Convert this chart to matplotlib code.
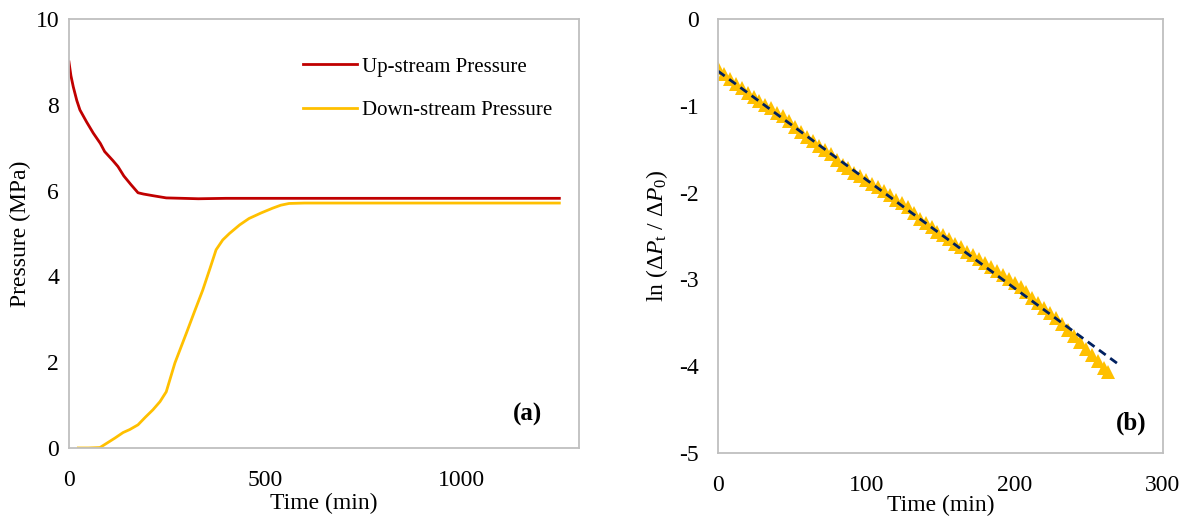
import matplotlib
matplotlib.use("Agg")
import matplotlib.pyplot as plt

# (a) pressure history in the two reservoirs
up_time = [0, 5, 11, 20, 28, 45, 62, 80, 91, 100, 112, 125, 140, 158, 176, 190, 215, 248, 290, 330, 400, 600, 900, 1250]
up_pressure = [9.0, 8.68, 8.42, 8.1, 7.88, 7.6, 7.34, 7.1, 6.91, 6.82, 6.7, 6.56, 6.34, 6.14, 5.95, 5.92, 5.88, 5.83, 5.82, 5.81, 5.82, 5.82, 5.82, 5.82]

down_time = [24, 50, 79, 98, 117, 138, 155, 176, 195, 214, 232, 248, 270, 299, 320, 341, 360, 375, 392, 409, 435, 459, 490, 519, 540, 561, 600, 900, 1250]
down_pressure = [0.0, 0.0, 0.01, 0.12, 0.23, 0.36, 0.43, 0.54, 0.72, 0.89, 1.08, 1.31, 1.98, 2.67, 3.18, 3.68, 4.2, 4.62, 4.85, 5.0, 5.2, 5.35, 5.48, 5.59, 5.66, 5.7, 5.71, 5.71, 5.71]

# (b) log pressure-difference decay and its linear fit
decay_time = [0, 4, 8, 12, 16, 20, 24, 28, 32, 36, 40, 44, 48, 52, 56, 60, 64, 68, 72, 76,
              80, 84, 88, 92, 96, 100, 104, 108, 112, 116, 120, 124, 128, 132, 136, 140, 144, 148, 152, 156,
              160, 164, 168, 172, 176, 180, 184, 188, 192, 196, 200, 204, 208, 212, 216, 220, 224, 228, 232, 236,
              240, 244, 248, 252, 256, 260, 263]
decay_ln = [-0.56, -0.63, -0.69, -0.75, -0.80, -0.85, -0.90, -0.94, -0.99, -1.03, -1.08, -1.12, -1.18, -1.24, -1.30, -1.36, -1.41, -1.46, -1.51, -1.56,
            -1.62, -1.68, -1.72, -1.77, -1.81, -1.86, -1.90, -1.94, -1.98, -2.03, -2.08, -2.12, -2.17, -2.24, -2.30, -2.35, -2.40, -2.45, -2.49, -2.54,
            -2.59, -2.63, -2.68, -2.72, -2.76, -2.81, -2.86, -2.90, -2.95, -3.00, -3.04, -3.09, -3.15, -3.21, -3.27, -3.33, -3.39, -3.45, -3.51, -3.58,
            -3.65, -3.72, -3.80, -3.87, -3.94, -4.02, -4.07]

fit_time = [0, 271]
fit_ln = [-0.6, -3.99]

plt.rcParams['font.family'] = ['Liberation Serif', 'DejaVu Serif']
plt.rcParams['mathtext.fontset'] = 'custom'
plt.rcParams['mathtext.rm'] = 'Liberation Serif'
plt.rcParams['mathtext.it'] = 'Liberation Serif:italic'
plt.rcParams['axes.unicode_minus'] = False
plt.rcParams['font.size'] = 17

grey = '#BFBFBF'

fig = plt.figure(figsize=(11.93, 5.17), dpi=100)
ax1 = fig.add_axes([0.0578, 0.1335, 0.4275, 0.8297])
ax2 = fig.add_axes([0.6018, 0.1238, 0.3730, 0.8395])

for ax in (ax1, ax2):
    for s in ax.spines.values():
        s.set_color(grey)
        s.set_linewidth(1.3)
    ax.tick_params(length=0, labelsize=17)

# left panel
ax1.plot(up_time, up_pressure, color='#C00000', lw=2, label='Up-stream Pressure')
ax1.plot(down_time, down_pressure, color='#FFC000', lw=2, label='Down-stream Pressure')
ax1.set_xlim(0, 1300)
ax1.set_ylim(0, 10)
ax1.set_xticks([0, 500, 1000])
ax1.set_yticks([0, 2, 4, 6, 8, 10])
ax1.tick_params(axis='y', pad=7)
ax1.tick_params(axis='x', pad=16)
ax1.set_xlabel('Time (min)', labelpad=1)
ax1.set_ylabel('Pressure (MPa)', labelpad=3)
ax1.legend(loc='upper right', bbox_to_anchor=(0.985, 0.955), frameon=False,
           handlelength=2.6, handletextpad=0.25, labelspacing=1.15, fontsize=15)
ax1.text(0.90, 0.077, '(a)', transform=ax1.transAxes, fontweight='bold',
         fontsize=18, ha='center', va='center')

# right panel
ax2.plot(decay_time, decay_ln, linestyle='none', marker='^', markersize=10,
         color='#FFC000', markeredgewidth=0)
ax2.plot(fit_time, fit_ln, color='#002060', lw=2, linestyle=(0, (3, 2)))
ax2.set_xlim(0, 300)
ax2.set_ylim(-5, 0)
ax2.set_xticks([0, 100, 200, 300])
ax2.set_yticks([0, -1, -2, -3, -4, -5])
ax2.tick_params(axis='y', pad=14)
ax2.tick_params(axis='x', pad=16)
ax2.set_xlabel('Time (min)', labelpad=-1)
ax2.set_ylabel(r'ln ($\Delta P_{\mathrm{t}}$ / $\Delta P_0$)', labelpad=6)
ax2.text(0.928, 0.069, '(b)', transform=ax2.transAxes, fontweight='bold',
         fontsize=18, ha='center', va='center')

fig.savefig('out.png', dpi=100)
